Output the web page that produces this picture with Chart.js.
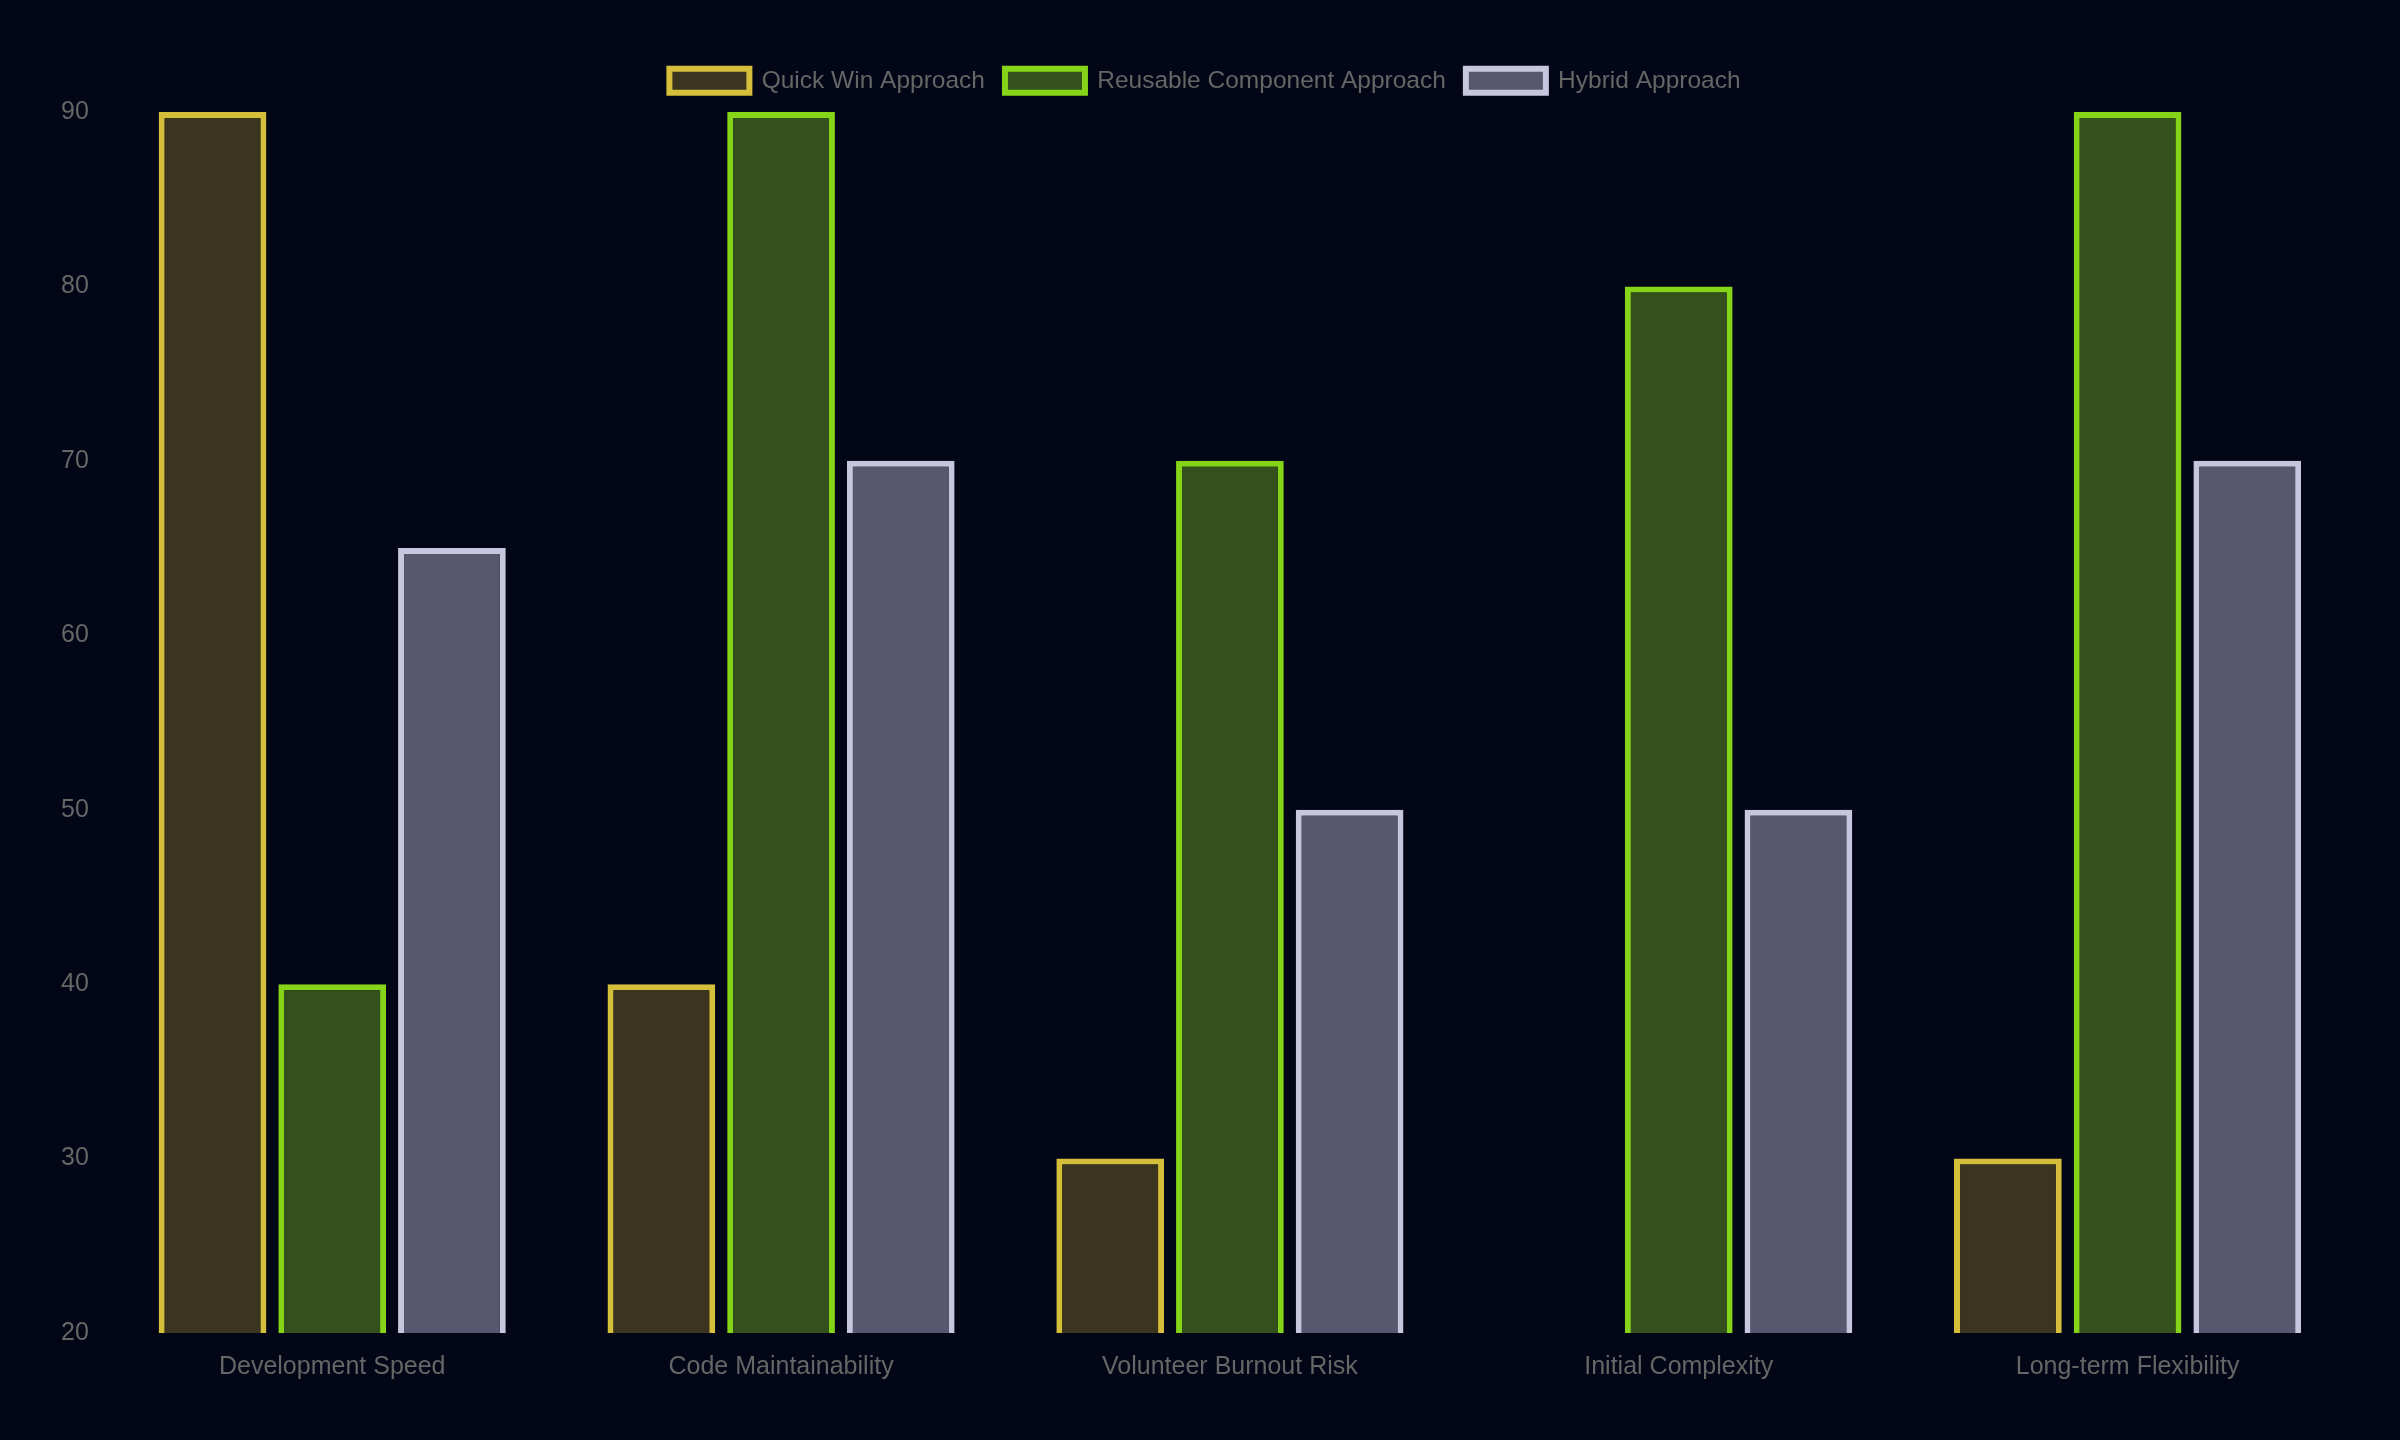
<!DOCTYPE html>
<html>
<head>
<meta charset="utf-8">
<script src="https://cdn.jsdelivr.net/npm/chart.js@4.4.1/dist/chart.umd.min.js"></script>
<style>
  html, body { margin: 0; padding: 0; background: #020617; }
  #wrap { width: 2400px; height: 1440px; }
</style>
</head>
<body>
<div id="wrap"><canvas id="mychart"></canvas></div>
<script>
// categories and series
const categories = ['Development Speed', 'Code Maintainability', 'Volunteer Burnout Risk', 'Initial Complexity', 'Long-term Flexibility'];
const quickWin = [90, 40, 30, 10, 30];
const reusable = [40, 90, 70, 80, 90];
const hybrid = [65, 70, 50, 50, 70];
const yTicks = [20, 30, 40, 50, 60, 70, 80, 90];

Chart.defaults.font.family = '"Liberation Sans", Arial, Helvetica, sans-serif';
Chart.defaults.font.size = 25;
Chart.defaults.color = '#666';

const bgColor = {
    id: 'bgColor',
    beforeDraw: (chart) => {
        const {ctx, width, height} = chart;
        ctx.save();
        ctx.fillStyle = '#020617';
        ctx.fillRect(0, 0, width, height);
        ctx.restore();
    }
};

// a bit more room under the legend
const legendGap = {
    id: 'legendGap',
    beforeInit: (chart) => {
        const fit = chart.legend.fit;
        chart.legend.fit = function() {
            fit.bind(chart.legend)();
            this.height += 9;
        };
    }
};

const ctx = document.getElementById('mychart').getContext('2d');
const chart = new Chart(ctx, {
    type: 'bar',
    data: {
        labels: categories,
        datasets: [{
            label: 'Quick Win Approach',
            data: quickWin,
            backgroundColor: 'rgb(59,53,32)',
            borderColor: 'rgb(213,191,58)',
            borderWidth: 6
        }, {
            label: 'Reusable Component Approach',
            data: reusable,
            backgroundColor: 'rgb(51,80,29)',
            borderColor: 'rgb(134,212,24)',
            borderWidth: 6
        }, {
            label: 'Hybrid Approach',
            data: hybrid,
            backgroundColor: 'rgb(87,87,111)',
            borderColor: 'rgb(199,198,222)',
            borderWidth: 6
        }]
    },
    options: {
        responsive: true,
        maintainAspectRatio: false,
        animation: false,
        layout: { padding: { top: 48.5, left: 58, right: 48, bottom: 55 } },
        plugins: {
            legend: {
                position: 'top',
                labels: { boxWidth: 80, boxHeight: 24, padding: 20, font: { size: 24.5 } }
            },
            tooltip: { enabled: false }
        },
        scales: {
            x: {
                grid: { color: 'transparent', tickLength: 16 },
                border: { display: false },
                ticks: { padding: 3 }
            },
            y: {
                min: yTicks[0],
                max: yTicks[yTicks.length - 1],
                afterBuildTicks: (axis) => { axis.ticks = yTicks.map(v => ({ value: v })); },
                grid: { color: 'transparent', tickLength: 16 },
                border: { display: false },
                ticks: { padding: 3 }
            }
        }
    },
    plugins: [bgColor, legendGap]
});
</script>
</body>
</html>
